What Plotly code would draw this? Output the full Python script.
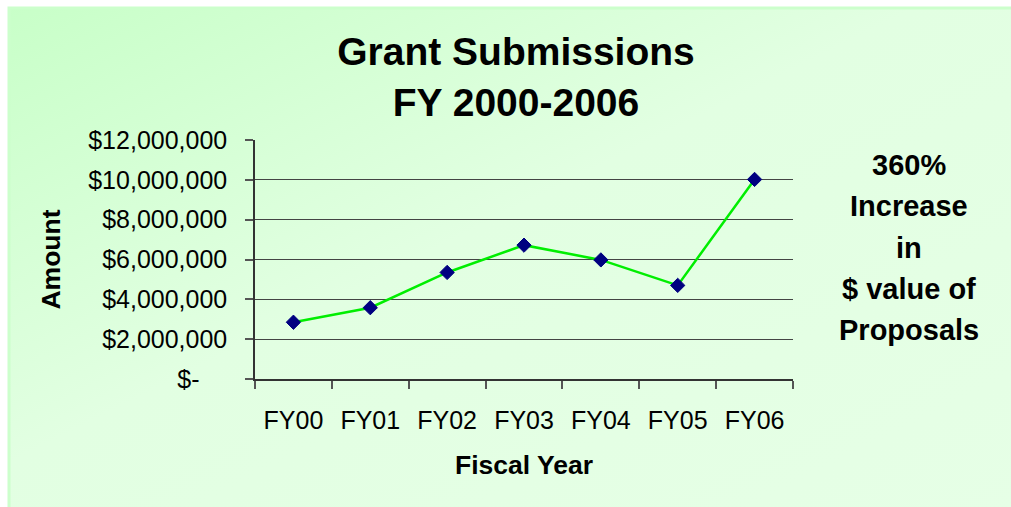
import base64
import plotly.graph_objects as go

# ---- data ----
fiscal_years = ["FY00", "FY01", "FY02", "FY03", "FY04", "FY05", "FY06"]
amounts = [2850000, 3580000, 5350000, 6720000, 5980000, 4700000, 10020000]
y_tick_values = [0, 2000000, 4000000, 6000000, 8000000, 10000000, 12000000]
y_tick_labels = ["$-\u00a0\u00a0\u00a0\u00a0", "$2,000,000", "$4,000,000", "$6,000,000",
                 "$8,000,000", "$10,000,000", "$12,000,000"]
side_note_lines = ["360%", "Increase", "in", "$ value of", "Proposals"]

FONT = "Liberation Sans, Arial, sans-serif"
W, H = 1011, 507

# gradient background as svg image (white strip at top/left like the reference)
svg = f'''<svg xmlns="http://www.w3.org/2000/svg" width="{W}" height="{H}" viewBox="0 0 {W} {H}" preserveAspectRatio="none">
<defs><linearGradient id="g" x1="0" y1="0" x2="1" y2="1">
<stop offset="0" stop-color="#c8ffc8"/><stop offset="0.45" stop-color="#e2ffe2"/>
<stop offset="1" stop-color="#e6ffe6"/></linearGradient></defs>
<rect x="0" y="0" width="{W}" height="{H}" fill="#ffffff"/>
<rect x="8" y="7" width="{W}" height="{H}" fill="url(#g)"/>
<rect x="9" y="8" width="{W}" height="{H}" fill="none" stroke="#ccffcc" stroke-width="3"/>
</svg>'''
src = "data:image/svg+xml;base64," + base64.b64encode(svg.encode()).decode()

fig = go.Figure()
fig.add_trace(go.Scatter(
    x=fiscal_years, y=amounts, mode="lines+markers",
    line=dict(color="#00ee00", width=2.5),
    marker=dict(symbol="diamond", size=11, color="#000080",
                line=dict(color="#000080", width=1)),
    showlegend=False, hoverinfo="x+y",
))

ML, MR, MT, MB = 255, 218, 140, 128
PW, PH = W - ML - MR, H - MT - MB

fig.update_layout(
    width=W, height=H,
    margin=dict(l=ML, r=MR, t=MT, b=MB, autoexpand=False),
    paper_bgcolor="#e4ffe4",
    plot_bgcolor="rgba(0,0,0,0)",
    font=dict(family=FONT, color="#000000"),
    images=[dict(source=src, xref="paper", yref="paper", x=-ML / PW,
                 y=1 + MT / PH, sizex=W / PW, sizey=H / PH,
                 xanchor="left", yanchor="top", sizing="stretch", layer="below")],
    title=dict(text="<b>Grant Submissions<br>FY 2000-2006</b>",
               font=dict(size=39, family=FONT, color="#000000"),
               x=516 / W, xanchor="center", xref="container",
               y=1 - 65 / H, yanchor="middle", yref="container"),
    xaxis=dict(
        type="category", categoryorder="array", categoryarray=fiscal_years,
        range=[-0.5, len(fiscal_years) - 0.5],
        showgrid=False, zeroline=False,
        showline=True, linecolor="#333333", linewidth=1.5,
        ticks="outside", tickson="boundaries", ticklen=8, tickcolor="#555555",
        tickwidth=1.5,
        tickfont=dict(size=25, family=FONT, color="#000000"),
        ticklabelstandoff=18,
        title=dict(text="<b>Fiscal Year</b>", font=dict(size=26.5, family=FONT),
                   standoff=23),
    ),
    yaxis=dict(
        range=[0, 12000000], tickvals=y_tick_values, ticktext=y_tick_labels,
        showgrid=True, gridcolor="#444444", gridwidth=1,
        zeroline=False, showline=True, linecolor="#333333", linewidth=1.5,
        ticks="outside", ticklen=8, tickcolor="#555555", tickwidth=1.5,
        tickfont=dict(size=25, family=FONT, color="#000000"),
        ticklabelstandoff=13,
        title=dict(text="<b>Amount</b>", font=dict(size=26.5, family=FONT),
                   standoff=20),
    ),
)

# side note lines
top_y, step = 165, 41.3
for i, line in enumerate(side_note_lines):
    ypix = top_y + i * step
    fig.add_annotation(
        text=f"<b>{line}</b>", xref="paper", yref="paper",
        x=(909 - ML) / PW, y=1 - (ypix - MT) / PH,
        xanchor="center", yanchor="middle", showarrow=False,
        font=dict(size=29, family=FONT, color="#000000"),
    )

fig.write_html(
    "out.html",
    config={"displayModeBar": False},
    post_script=("document.body.style.margin='0';document.body.style.overflow='hidden';"
                 "document.body.style.background='#e6ffe6';"
                 "document.documentElement.style.background='#e6ffe6';"),
)
